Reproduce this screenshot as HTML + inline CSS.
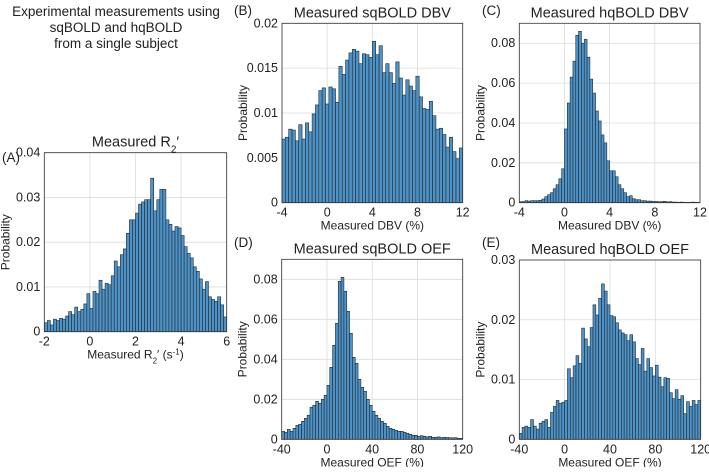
<!DOCTYPE html>
<html><head><meta charset="utf-8"><style>
body{margin:0;background:#fff;width:709px;height:467px;overflow:hidden;font-family:"Liberation Sans",sans-serif}
svg text{font-family:"Liberation Sans",sans-serif;fill:#222}
</style></head><body>
<svg id="fig" width="709" height="467">
<text x="116" y="16" font-size="13.5" text-anchor="middle">Experimental measurements using</text>
<text x="116" y="32" font-size="13.5" text-anchor="middle">sqBOLD and hqBOLD</text>
<text x="116" y="48" font-size="13.5" text-anchor="middle">from a single subject</text>
</svg>
<script>
const aVals=[0.002,0.0025,0.0015,0.0028,0.0025,0.003,0.0028,0.0035,0.0045,0.0038,0.0055,0.0045,0.005,0.0062,0.0085,0.0052,0.009,0.0085,0.0115,0.0095,0.0108,0.0105,0.0125,0.0158,0.0145,0.0172,0.0185,0.022,0.025,0.025,0.0265,0.0285,0.029,0.0295,0.0295,0.0343,0.027,0.0295,0.0318,0.0318,0.025,0.024,0.0225,0.0235,0.0232,0.0215,0.019,0.0175,0.0165,0.0145,0.0135,0.0118,0.0095,0.0112,0.0078,0.0072,0.0068,0.0078,0.006,0.0033];
const bVals=[0.0071,0.0073,0.0082,0.0081,0.0069,0.0087,0.0071,0.0089,0.0079,0.0099,0.0109,0.0125,0.0128,0.011,0.0129,0.0127,0.0112,0.0152,0.0143,0.0159,0.0167,0.0171,0.0169,0.0155,0.0166,0.0165,0.0162,0.018,0.0165,0.0175,0.0145,0.0155,0.0145,0.0133,0.0157,0.0139,0.012,0.0137,0.013,0.0125,0.0141,0.0118,0.0105,0.0104,0.0113,0.0097,0.0082,0.0083,0.0076,0.0062,0.0073,0.0057,0.0049,0.0061];
const cVals=[0.0005,0.0005,0.001,0.0008,0.001,0.001,0.001,0.0012,0.0018,0.003,0.004,0.005,0.007,0.009,0.012,0.017,0.037,0.05,0.063,0.071,0.084,0.086,0.08,0.082,0.073,0.062,0.055,0.046,0.041,0.034,0.03,0.021,0.016,0.016,0.013,0.009,0.007,0.005,0.003,0.0035,0.002,0.0015,0.0015,0.001,0.001,0.0008,0.0008,0.0006,0.0006,0.0005,0.0005,0.0007,0.0004,0.0005,0.0003,0.0003,0.0002,0.0003,0.0002,0.0002,0.0002,0.0003,0.0002,0.0001];
const dVals=[0.004,0.0035,0.005,0.004,0.0055,0.007,0.0075,0.009,0.0105,0.012,0.016,0.017,0.019,0.018,0.02,0.022,0.027,0.036,0.047,0.058,0.079,0.081,0.074,0.064,0.053,0.041,0.038,0.03,0.026,0.024,0.02,0.017,0.014,0.012,0.0105,0.009,0.008,0.0065,0.0055,0.005,0.0045,0.004,0.004,0.0035,0.003,0.0025,0.002,0.002,0.0015,0.0018,0.0015,0.0012,0.0015,0.001,0.001,0.0012,0.0008,0.001,0.0009,0.0008,0.0007,0.0008,0.0005,0.0005];
const eVals=[0.001,0.002,0.0022,0.002,0.0033,0.0022,0.0017,0.0027,0.003,0.0033,0.002,0.0045,0.0055,0.0065,0.006,0.0062,0.0065,0.0118,0.0103,0.0123,0.014,0.0127,0.0186,0.0168,0.0155,0.0187,0.0225,0.0208,0.0236,0.026,0.0248,0.0225,0.0207,0.0205,0.0195,0.0183,0.0178,0.0175,0.0165,0.0175,0.0163,0.0135,0.0125,0.0152,0.0114,0.0135,0.012,0.0106,0.0124,0.0104,0.0088,0.0103,0.0102,0.0078,0.0068,0.0083,0.0067,0.0073,0.0043,0.0063,0.0055,0.0065,0.0058,0.0065];
const aXTicks=[-2,0,2,4,6], aYTicks=[0,0.01,0.02,0.03,0.04];
const dbvXTicks=[-4,0,4,8,12], bYTicks=[0,0.005,0.01,0.015,0.02];
const cYTicks=[0,0.02,0.04,0.06,0.08], oefXTicks=[-40,0,40,80,120], eYTicks=[0,0.01,0.02,0.03];

const NS="http://www.w3.org/2000/svg", svg=document.getElementById('fig');
function mk(t,a,p){const e=document.createElementNS(NS,t);for(const k in a)e.setAttribute(k,a[k]);(p||svg).appendChild(e);return e;}
function panel(id,box,xr,yr,vals,xt,yt,title,xlabel,letter,lp){
  const g=mk('g',{});
  
  
  const [L,T,R,B]=box;
  const sx=v=>L+(v-xr[0])/(xr[1]-xr[0])*(R-L);
  const sy=v=>B-(v-yr[0])/(yr[1]-yr[0])*(B-T);
  mk('rect',{x:L,y:T,width:R-L,height:B-T,fill:'#fff'},g);
  xt.forEach(v=>{const l=mk('line',{x1:sx(v),x2:sx(v),y1:T,y2:B,stroke:'#dcdcdc','stroke-width':0.8},g);
    
    const t=mk('text',{x:sx(v),y:B+14,'font-size':12.5,'text-anchor':'middle'},g);t.textContent=v;
    });
  yt.forEach(v=>{const l=mk('line',{x1:L,x2:R,y1:sy(v),y2:sy(v),stroke:'#dcdcdc','stroke-width':0.8},g);
    
    const t=mk('text',{x:L-4,y:sy(v)+4,'font-size':12.5,'text-anchor':'end'},g);t.textContent=v;
    });
  const w=(xr[1]-xr[0])/vals.length;
  vals.forEach((v,i)=>{const x0=sx(xr[0]+i*w),x1=sx(xr[0]+(i+1)*w);
    const r=mk('rect',{x:x0,y:sy(v),width:x1-x0,height:B-sy(v),fill:'#4f93c6',stroke:'#1d2a36','stroke-width':0.6},g);
    });
  mk('rect',{x:L,y:T,width:R-L,height:B-T,fill:'none',stroke:'#333','stroke-width':0.8},g);
  const tt=mk('text',{x:(L+R)/2,y:T-6,'font-size':14.5,'text-anchor':'middle'},g);tt.innerHTML=title;
  
  const xl=mk('text',{x:(L+R)/2,y:B+27,'font-size':12,'text-anchor':'middle'},g);xl.innerHTML=xlabel;
  
  const yl=mk('text',{x:0,y:0,'font-size':12,'text-anchor':'middle',transform:`translate(${L-35},${(T+B)/2}) rotate(-90)`},g);yl.textContent='Probability';
  
  const pl=mk('text',{x:lp[0],y:lp[1],'font-size':13.5},g);pl.textContent=letter;
  
}
panel('a',[44.3,152.7,226.7,331.7],[-2,6],[0,0.04],aVals,aXTicks,aYTicks,'Measured R<tspan baseline-shift="sub" font-size="10">2</tspan>′','Measured R<tspan baseline-shift="sub" font-size="8">2</tspan>′ (s<tspan baseline-shift="super" font-size="8">-1</tspan>)','(A)',[2,162]);
panel('b',[282,23.3,462.7,202.7],[-4,12],[0,0.02],bVals,dbvXTicks,bYTicks,'Measured sqBOLD DBV','Measured DBV (%)','(B)',[234,15]);
panel('c',[519.3,23.3,700,202.7],[-4,12],[0,0.09],cVals,dbvXTicks,cYTicks,'Measured hqBOLD DBV','Measured DBV (%)','(C)',[482,15]);
panel('d',[281.7,259.3,462.7,439.3],[-40,120],[0,0.09],dVals,oefXTicks,cYTicks,'Measured sqBOLD OEF','Measured OEF (%)','(D)',[234,247]);
panel('e',[519.3,260,700.7,439.3],[-40,120],[0,0.03],eVals,oefXTicks,eYTicks,'Measured hqBOLD OEF','Measured OEF (%)','(E)',[482,247]);
</script>
</body></html>
